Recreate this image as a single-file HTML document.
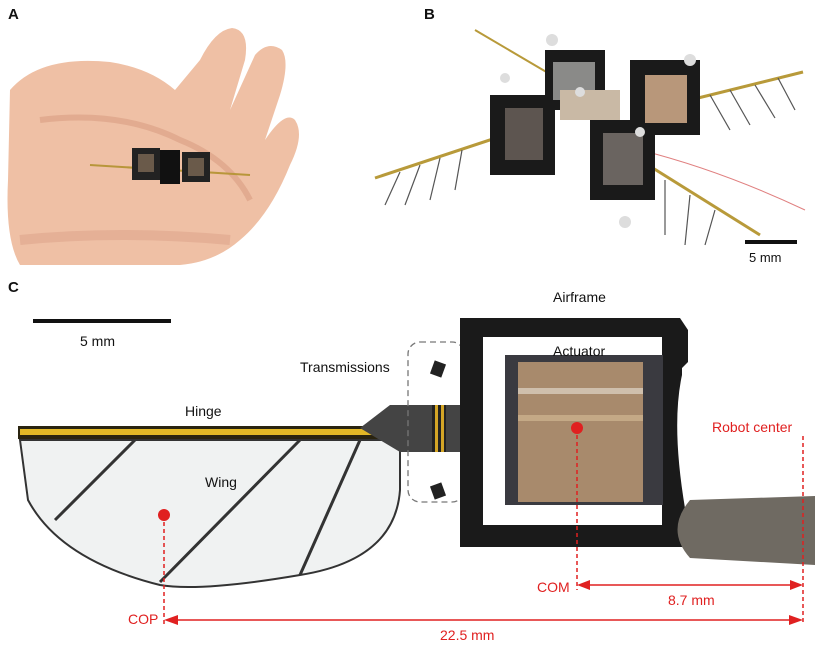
<!DOCTYPE html>
<html><head><meta charset="utf-8"><style>
html,body{margin:0;padding:0;background:#fff;}
svg{display:block;font-family:"Liberation Sans",sans-serif;}
</style></head><body>
<svg width="825" height="645" viewBox="0 0 825 645" xmlns="http://www.w3.org/2000/svg">
<rect width="825" height="645" fill="#fff"/>
<!-- Panel A hand -->
<g>
<path d="M10 90 Q40 55 110 62 Q150 68 175 90 L200 60 Q215 30 232 28 Q250 30 245 60 L230 110 L255 55 Q268 40 282 50 Q290 62 280 95 L265 140 Q285 110 295 120 Q305 135 290 165 Q270 215 240 240 Q215 262 180 265 L20 265 Q5 240 8 180 Z" fill="#efc0a5"/>
<path d="M40 120 Q120 110 180 140 Q230 160 250 200" stroke="#d99c82" stroke-width="6" fill="none" opacity="0.6"/>
<path d="M20 240 Q120 230 230 240" stroke="#dba087" stroke-width="10" fill="none" opacity="0.5"/>
<path d="M90 165 L250 175" stroke="#b8963a" stroke-width="2"/>
<rect x="132" y="148" width="28" height="32" fill="#222"/>
<rect x="160" y="150" width="20" height="34" fill="#111"/>
<rect x="182" y="152" width="28" height="30" fill="#222"/>
<rect x="138" y="154" width="16" height="18" fill="#6a5a4a"/>
<rect x="188" y="158" width="16" height="18" fill="#6a5a4a"/>
</g>
<!-- Panel B robot -->
<g>
<path d="M375 178 L520 130" stroke="#b89a3a" stroke-width="3"/>
<path d="M690 100 L803 72" stroke="#b89a3a" stroke-width="3"/>
<path d="M475 30 L560 80" stroke="#b89a3a" stroke-width="2"/>
<path d="M640 160 L760 235" stroke="#b89a3a" stroke-width="3"/>
<g stroke="#555" stroke-width="1.2">
<path d="M400 172 L385 205"/><path d="M420 165 L405 205"/><path d="M440 158 L430 200"/><path d="M462 150 L455 190"/>
<path d="M710 95 L730 130"/><path d="M730 90 L750 125"/><path d="M755 85 L775 118"/><path d="M778 78 L795 110"/>
<path d="M665 180 L665 235"/><path d="M690 195 L685 245"/><path d="M715 210 L705 245"/>
</g>
<path d="M640 150 Q720 170 805 210" stroke="#e08080" stroke-width="1" fill="none"/>
<g fill="#1a1a1a">
<rect x="490" y="95" width="65" height="80"/>
<rect x="545" y="50" width="60" height="60"/>
<rect x="630" y="60" width="70" height="75"/>
<rect x="590" y="120" width="65" height="80"/>
</g>
<rect x="505" y="108" width="38" height="52" fill="#5d5550"/>
<rect x="553" y="62" width="42" height="38" fill="#8a8a88"/>
<rect x="645" y="75" width="42" height="48" fill="#b8977a"/>
<rect x="603" y="133" width="40" height="52" fill="#6a6460"/>
<rect x="560" y="90" width="60" height="30" fill="#c9b9a5"/>
<g fill="#ddd"><circle cx="552" cy="40" r="6"/><circle cx="690" cy="60" r="6"/><circle cx="505" cy="78" r="5"/><circle cx="580" cy="92" r="5"/><circle cx="640" cy="132" r="5"/><circle cx="625" cy="222" r="6"/></g>
<rect x="745" y="240" width="52" height="4" fill="#111"/>
<text x="749" y="262" font-size="13" fill="#111">5 mm</text>
</g>
<text x="8" y="19" font-size="15" font-weight="bold" fill="#111">A</text>
<text x="424" y="19" font-size="15" font-weight="bold" fill="#111">B</text>
<text x="8" y="292" font-size="15" font-weight="bold" fill="#111">C</text>
<!-- Panel C -->
<rect x="33" y="319" width="138" height="4" fill="#111"/>
<text x="80" y="346" font-size="14" fill="#111">5 mm</text>
<!-- wing -->
<path d="M20 440 L400 440 L400 490 Q395 560 300 575 Q200 592 160 585 Q60 560 28 500 Z" fill="#f0f2f2" stroke="#333" stroke-width="2"/>
<rect x="18" y="426" width="384" height="13" fill="#2a2410"/>
<rect x="20" y="429" width="380" height="6" fill="#e3b826"/>
<g stroke="#333" stroke-width="3">
<path d="M135 440 L55 520"/><path d="M300 440 L160 582"/><path d="M360 440 L300 575"/>
</g>
<text x="185" y="416" font-size="14" fill="#111">Hinge</text>
<text x="205" y="487" font-size="14" fill="#111">Wing</text>
<!-- transmission -->
<path d="M360 428 L390 405 L460 405 L460 452 L400 452 Z" fill="#444"/>
<rect x="432" y="405" width="14" height="47" fill="#222"/>
<rect x="435" y="405" width="3" height="47" fill="#d4a526"/>
<rect x="441" y="405" width="3" height="47" fill="#d4a526"/>
<rect x="432" y="362" width="12" height="14" fill="#222" transform="rotate(20 438 369)"/>
<rect x="432" y="484" width="12" height="14" fill="#222" transform="rotate(-20 438 491)"/>
<rect x="408" y="342" width="56" height="160" rx="12" fill="none" stroke="#777" stroke-width="1.3" stroke-dasharray="6,4"/>
<text x="300" y="372" font-size="14" fill="#111">Transmissions</text>
<!-- airframe -->
<path d="M460 318 L680 318 L688 330 L688 362 L682 368 L682 375 Q670 430 688 525 L682 547 L460 547 Z M483 337 L483 525 L662 525 L662 337 Z" fill="#1a1a1a" fill-rule="evenodd"/>
<rect x="505" y="355" width="158" height="150" fill="#3a3a40"/>
<rect x="518" y="362" width="125" height="140" fill="#a88a6c"/>
<rect x="518" y="388" width="125" height="6" fill="#e0d6c8" opacity="0.7"/>
<rect x="518" y="415" width="125" height="6" fill="#e0c8a0" opacity="0.5"/>
<text x="553" y="302" font-size="14" fill="#111">Airframe</text>
<text x="553" y="356" font-size="14" fill="#111">Actuator</text>
<!-- clamp -->
<path d="M690 500 L815 496 L815 565 L690 558 Q665 530 690 500 Z" fill="#6f6a62"/>
<!-- red annotations -->
<g stroke="#e02020" stroke-width="1.5" fill="none">
<path d="M577 428 L577 590" stroke-dasharray="4,3"/>
<path d="M803 436 L803 625" stroke-dasharray="4,3"/>
<path d="M164 515 L164 625" stroke-dasharray="4,3"/>
<path d="M585 585 L795 585"/>
<path d="M172 620 L795 620"/>
</g>
<g fill="#e02020">
<circle cx="577" cy="428" r="6"/><circle cx="164" cy="515" r="6"/>
<path d="M577 585 L590 580 L590 590 Z"/><path d="M803 585 L790 580 L790 590 Z"/>
<path d="M164 620 L178 615 L178 625 Z"/><path d="M803 620 L789 615 L789 625 Z"/>
</g>
<g font-size="14" fill="#e02020">
<text x="712" y="432">Robot center</text>
<text x="537" y="592">COM</text>
<text x="128" y="624">COP</text>
<text x="668" y="605">8.7 mm</text>
<text x="440" y="640">22.5 mm</text>
</g>
</svg>
</body></html>
